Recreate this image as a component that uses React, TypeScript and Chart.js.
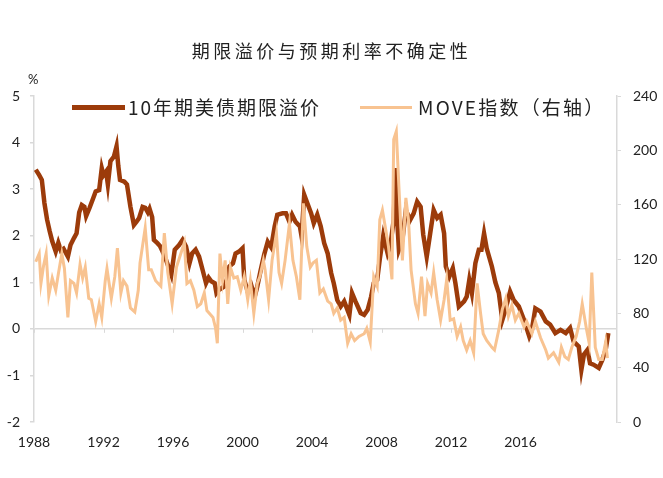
import React, { useEffect, useRef } from 'react';
import { Chart, registerables } from 'chart.js';

Chart.register(...registerables);

// ---- data (dates as decimal years) ----

// 10-year US Treasury term premium, % (left axis)
const tpDates = [
  1988.1, 1988.3, 1988.45, 1988.6, 1988.75, 1988.9, 1989.05, 1989.25, 1989.4, 1989.55, 1989.7, 1989.95,
  1990.1, 1990.3, 1990.45, 1990.6, 1990.75, 1990.9, 1991.0, 1991.2, 1991.4, 1991.55, 1991.75, 1991.9,
  1992.0, 1992.15, 1992.25, 1992.4, 1992.6, 1992.75, 1992.85, 1992.95, 1993.2, 1993.35, 1993.55, 1993.75,
  1993.9, 1994.05, 1994.25, 1994.4, 1994.55, 1994.65, 1994.8, 1994.9, 1995.1, 1995.25, 1995.4, 1995.6,
  1995.9, 1996.1, 1996.35, 1996.55, 1996.75, 1996.95, 1997.1, 1997.3, 1997.5, 1997.7, 1997.9, 1998.05,
  1998.2, 1998.4, 1998.5, 1998.65, 1998.95, 1999.15, 1999.25, 1999.45, 1999.6, 1999.8, 2000.0, 2000.1,
  2000.3, 2000.5, 2000.7, 2000.85, 2001.05, 2001.25, 2001.45, 2001.65, 2001.85, 2002.0, 2002.3, 2002.5,
  2002.7, 2002.85, 2003.05, 2003.3, 2003.4, 2003.55, 2003.7, 2003.95, 2004.1, 2004.3, 2004.5, 2004.7,
  2004.9, 2005.1, 2005.25, 2005.45, 2005.65, 2005.85, 2006.15, 2006.3, 2006.5, 2006.8, 2007.0, 2007.2,
  2007.4, 2007.55, 2007.75, 2007.9, 2008.1, 2008.35, 2008.5, 2008.7, 2008.8, 2008.9, 2009.0, 2009.2,
  2009.4, 2009.65, 2009.85, 2010.05, 2010.25, 2010.4, 2010.6, 2010.8, 2011.0, 2011.2, 2011.4, 2011.6,
  2011.7, 2011.9, 2012.1, 2012.25, 2012.45, 2012.75, 2012.9, 2013.05, 2013.2, 2013.4, 2013.6, 2013.75,
  2013.9, 2014.05, 2014.35, 2014.55, 2014.75, 2014.95, 2015.1, 2015.4, 2015.6, 2015.9, 2016.2, 2016.5,
  2016.65, 2016.85, 2017.15, 2017.45, 2017.7, 2018.0, 2018.3, 2018.6, 2018.85, 2019.05, 2019.35, 2019.5,
  2019.65, 2019.85, 2020.0, 2020.2, 2020.5, 2020.7, 2020.9, 2021.05,
];
const tpValues = [
  3.42, 3.3, 3.2, 2.7, 2.35, 2.1, 1.88, 1.66, 1.85, 1.68, 1.72, 1.55,
  1.8, 1.95, 2.05, 2.5, 2.66, 2.62, 2.42, 2.6, 2.8, 2.95, 2.98, 3.45,
  3.3, 3.38, 3.1, 3.6, 3.7, 3.92, 3.5, 3.2, 3.16, 3.1, 2.62, 2.23,
  2.3, 2.38, 2.62, 2.6, 2.5, 2.58, 2.4, 1.91, 1.84, 1.78, 1.66, 1.48,
  1.16, 1.7, 1.8, 1.91, 1.77, 1.41, 1.62, 1.7, 1.55, 1.27, 0.98, 1.1,
  1.02, 0.98, 0.77, 0.84, 0.91, 1.12, 1.34, 1.41, 1.62, 1.66, 1.73, 1.05,
  0.8, 0.94, 0.69, 0.91, 1.27, 1.6, 1.87, 1.75, 2.2, 2.45, 2.48, 2.48,
  2.3, 2.45, 2.3, 2.2, 1.98, 2.88, 2.73, 2.48, 2.27, 2.45, 2.2, 1.84,
  1.62, 1.2, 0.98, 0.62, 0.48, 0.59, 0.3, 0.77, 0.59, 0.34, 0.3, 0.41,
  0.69, 0.98, 1.05, 1.5, 2.0, 1.62, 1.77, 2.34, 3.45, 2.34, 1.7, 1.91,
  2.55, 2.34, 2.48, 2.73, 2.62, 2.02, 1.55, 2.05, 2.55, 2.38, 2.45, 2.05,
  1.34, 1.12, 1.3, 0.98, 0.48, 0.59, 0.69, 1.05, 0.77, 1.41, 1.7, 1.7,
  2.05, 1.73, 1.34, 1.0, 0.77, 0.19, 0.37, 0.8, 0.62, 0.48, 0.19, -0.16,
  -0.02, 0.44, 0.37, 0.16, 0.09, -0.09, -0.02, -0.09, 0.02, -0.27, -0.38, -0.88,
  -0.55, -0.45, -0.74, -0.77, -0.84, -0.67, -0.45, -0.09,
];

// MOVE index (right axis)
const moveDates = [
  1988.1, 1988.3, 1988.4, 1988.55, 1988.7, 1988.85, 1989.05, 1989.25, 1989.4, 1989.6, 1989.75, 1989.95,
  1990.1, 1990.3, 1990.45, 1990.65, 1990.8, 1990.95, 1991.15, 1991.3, 1991.55, 1991.75, 1991.9, 1992.1,
  1992.2, 1992.45, 1992.65, 1992.8, 1993.0, 1993.15, 1993.35, 1993.55, 1993.8, 1994.0, 1994.1, 1994.4,
  1994.6, 1994.75, 1995.0, 1995.3, 1995.5, 1995.7, 1995.95, 1996.2, 1996.45, 1996.65, 1996.8, 1997.0,
  1997.2, 1997.4, 1997.6, 1997.8, 1997.95, 1998.3, 1998.45, 1998.55, 1998.7, 1998.85, 1999.0, 1999.15,
  1999.3, 1999.5, 1999.7, 1999.9, 2000.1, 2000.3, 2000.45, 2000.65, 2000.85, 2001.0, 2001.2, 2001.3,
  2001.5, 2001.7, 2001.95, 2002.1, 2002.25, 2002.45, 2002.7, 2002.9, 2003.1, 2003.3, 2003.5, 2003.7,
  2003.9, 2004.05, 2004.25, 2004.45, 2004.65, 2004.9, 2005.1, 2005.25, 2005.45, 2005.65, 2005.85, 2006.05,
  2006.25, 2006.45, 2006.7, 2007.0, 2007.15, 2007.35, 2007.55, 2007.75, 2007.9, 2008.05, 2008.25, 2008.4,
  2008.6, 2008.7, 2008.85, 2009.0, 2009.2, 2009.4, 2009.55, 2009.7, 2009.95, 2010.1, 2010.3, 2010.5,
  2010.65, 2010.85, 2011.0, 2011.2, 2011.4, 2011.6, 2011.75, 2011.95, 2012.15, 2012.35, 2012.55, 2012.7,
  2012.9, 2013.1, 2013.3, 2013.5, 2013.7, 2013.85, 2014.05, 2014.35, 2014.5, 2014.75, 2014.95, 2015.15,
  2015.3, 2015.5, 2015.7, 2015.9, 2016.2, 2016.35, 2016.65, 2016.85, 2017.15, 2017.45, 2017.6, 2017.9,
  2018.2, 2018.35, 2018.55, 2018.75, 2018.95, 2019.2, 2019.4, 2019.55, 2019.8, 2019.95, 2020.1, 2020.3,
  2020.5, 2020.7, 2020.9, 2021.0,
];
const moveValues = [
  118, 124, 102, 115, 124, 93, 106, 97, 109, 124, 113, 77,
  104, 102, 95, 116, 106, 114, 91, 90, 74, 87, 77, 104,
  113, 91, 107, 128, 95, 104, 100, 84, 81, 97, 117, 143,
  112, 112, 104, 100, 139, 110, 87, 114, 124, 132, 102, 104,
  97, 85, 87, 95, 82, 77, 69, 58, 124, 104, 119, 87,
  114, 106, 107, 97, 107, 90, 104, 80, 102, 107, 119, 112,
  90, 119, 139, 110, 102, 119, 146, 119, 107, 90, 161, 129,
  114, 117, 119, 95, 98, 89, 87, 80, 84, 75, 77, 58,
  65, 60, 63, 65, 69, 59, 107, 100, 149, 156, 141, 129,
  105, 208, 214, 173, 119, 165, 149, 112, 87, 80, 107, 78,
  102, 95, 110, 90, 75, 90, 105, 75, 76, 63, 70, 60,
  53, 60, 51, 102, 80, 65, 60, 55, 53, 68, 83, 91,
  78, 86, 75, 80, 70, 74, 65, 74, 62, 53, 47, 51,
  44, 55, 48, 46, 55, 63, 74, 87, 68, 58, 110, 55,
  46, 46, 59, 47,
];

const xTickYears = [1988, 1992, 1996, 2000, 2004, 2008, 2012, 2016];
const chartTitle = '期限溢价与预期利率不确定性';
const seriesNames = ['10年期美债期限溢价', 'MOVE指数（右轴）'];
const leftUnit = '%';

const DARK = '#9C3B0A';
const LIGHT = '#F8C391';
const AXIS = '#D9D9D9';
const TEXT = '#222222';

const zeroTickPlugin = {
  id: 'zeroTicks',
  beforeDatasetsDraw(chart: any) {
    const { ctx, scales } = chart;
    const y0 = scales.y.getPixelForValue(0);
    ctx.save();
    ctx.strokeStyle = AXIS;
    ctx.lineWidth = 1;
    xTickYears.forEach((yr) => {
      const px = Math.round(scales.x.getPixelForValue(yr)) + 0.5;
      ctx.beginPath();
      ctx.moveTo(px, y0);
      ctx.lineTo(px, y0 + 4);
      ctx.stroke();
    });
    ctx.restore();
  },
};

export default function App() {
  const ref = useRef<HTMLCanvasElement | null>(null);

  useEffect(() => {
    if (!ref.current) return;
    const chart = new Chart(ref.current, {
      type: 'line',
      data: {
        datasets: [
          {
            label: seriesNames[1],
            data: moveValues.map((v, i) => ({ x: moveDates[i], y: v })),
            borderColor: LIGHT,
            borderWidth: 3,
            pointRadius: 0,
            tension: 0,
            yAxisID: 'y1',
          },
          {
            label: seriesNames[0],
            data: tpValues.map((v, i) => ({ x: tpDates[i], y: v })),
            borderColor: DARK,
            borderWidth: 4.5,
            pointRadius: 0,
            tension: 0,
            yAxisID: 'y',
          },
        ],
      },
      options: {
        animation: false,
        responsive: true,
        maintainAspectRatio: false,
        layout: { padding: { top: 96, left: 0, right: 0, bottom: 0 } },
        plugins: {
          legend: { display: false },
          title: { display: false },
          tooltip: { enabled: false },
        },
        scales: {
          x: {
            type: 'linear',
            min: 1988,
            max: 2021.55,
            afterBuildTicks: (scale: any) => {
              scale.ticks = xTickYears.map((v) => ({ value: v }));
            },
            afterFit: (scale: any) => {
              scale.height = 56;
            },
            grid: { display: false, drawTicks: false },
            border: { display: false },
            ticks: {
              autoSkip: false,
              maxRotation: 0,
              padding: 12,
              color: TEXT,
              font: { family: 'Lato', size: 14 },
              callback: (v: any) => String(v),
            },
          },
          y: {
            position: 'left',
            min: -2,
            max: 5,
            afterFit: (scale: any) => {
              scale.width = 34;
            },
            grid: {
              drawOnChartArea: true,
              color: (c: any) => (c.tick && c.tick.value === 0 ? AXIS : 'rgba(0,0,0,0)'),
              lineWidth: 1.5,
              drawTicks: true,
              tickLength: 4,
              tickColor: AXIS,
            },
            border: { display: true, color: AXIS, width: 1.5 },
            ticks: {
              stepSize: 1,
              padding: 10,
              color: TEXT,
              font: { family: 'Lato', size: 14 },
            },
          },
          y1: {
            position: 'right',
            min: 0,
            max: 240,
            afterFit: (scale: any) => {
              scale.width = 46;
            },
            grid: {
              drawOnChartArea: false,
              drawTicks: true,
              tickLength: 4,
              tickColor: AXIS,
            },
            border: { display: true, color: AXIS, width: 1.5 },
            ticks: {
              stepSize: 40,
              padding: 12,
              color: TEXT,
              font: { family: 'Lato', size: 14 },
            },
          },
        },
      },
      plugins: [zeroTickPlugin],
    });
    return () => chart.destroy();
  }, []);

  const legendText: React.CSSProperties = {
    position: 'absolute',
    fontFamily: '"Noto Sans CJK SC", "Noto Sans", sans-serif',
    fontSize: 19,
    color: TEXT,
    lineHeight: '24px',
    whiteSpace: 'nowrap',
  };

  return (
    <div
      style={{
        position: 'fixed',
        left: 0,
        top: 0,
        width: 663,
        height: 478,
        background: '#fff',
        overflow: 'hidden',
      }}
    >
      <canvas ref={ref} width={663} height={478} style={{ width: 663, height: 478 }} />
      <div
        style={{
          position: 'absolute',
          left: 0,
          width: 663,
          top: 37,
          textAlign: 'center',
          fontFamily: '"Noto Sans CJK SC", sans-serif',
          fontSize: 18,
          letterSpacing: 3.5,
          color: TEXT,
          lineHeight: '26px',
        }}
      >
        {chartTitle}
      </div>
      <div
        style={{
          position: 'absolute',
          left: 28,
          top: 71,
          fontFamily: 'Lato, sans-serif',
          fontSize: 13,
          color: TEXT,
        }}
      >
        {leftUnit}
      </div>
      <div style={{ position: 'absolute', left: 72, top: 105, width: 53, height: 5, background: DARK }} />
      <div style={{ ...legendText, left: 128, top: 95, letterSpacing: 2 }}>{seriesNames[0]}</div>
      <div style={{ position: 'absolute', left: 360, top: 106, width: 52, height: 3, background: LIGHT }} />
      <div style={{ ...legendText, left: 418, top: 95, letterSpacing: 2.2 }}>{seriesNames[1]}</div>
    </div>
  );
}
